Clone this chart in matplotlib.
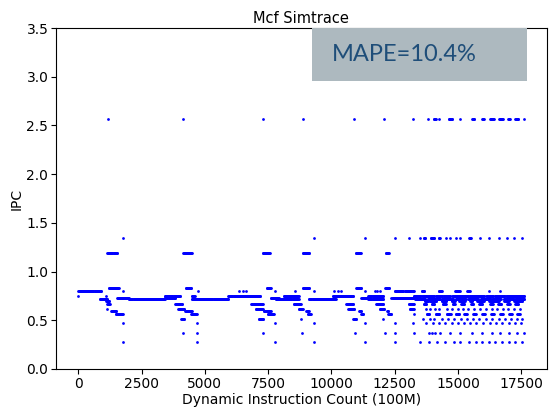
import numpy as np
import matplotlib
matplotlib.use("Agg")
import matplotlib.pyplot as plt
from matplotlib.patches import Rectangle

STEP = 20  # trace sample spacing, in units of 100M instructions

# Spans (start, end) of samples sitting at each IPC level; start == end is a single sample
ipc_028 = [(1760, 1760), (4680, 4680), (7770, 7770), (9320, 9320), (11340, 11340), (12500, 12500),
           (13485, 13485), (13843, 13843), (14162, 14162), (14480, 14480), (14838, 14838), (15076, 15076),
           (15434, 15434), (15713, 15713), (15952, 15952), (16230, 16230), (16469, 16469), (16747, 16747),
           (17025, 17025), (17264, 17264), (17543, 17543)]
ipc_037 = [(4140, 4140), (4700, 4700), (7290, 7290), (8830, 8830), (10910, 10910), (12100, 12100),
           (12500, 12500), (13247, 13247), (13843, 13843), (13963, 13963), (14082, 14082), (14281, 14281),
           (14679, 14679), (15076, 15076), (15554, 15554), (15952, 15952), (16350, 16350), (16668, 16668),
           (17025, 17025), (17344, 17344), (17623, 17623)]
ipc_047 = [(1760, 1760), (4680, 4680), (7770, 7770), (9320, 9320), (11340, 11340), (12500, 12500),
           (13230, 13230), (13724, 13724), (14003, 14003), (14241, 14241), (14480, 14480), (14758, 14758),
           (14997, 14997), (15236, 15236), (15474, 15474), (15713, 15713), (15992, 15992), (16270, 16270),
           (16509, 16509), (16747, 16747), (17026, 17026), (17264, 17264), (17503, 17503)]
ipc_051 = [(4060, 4180), (7130, 7320), (8790, 8790), (10860, 10980), (12040, 12040),
           (13605, 13605), (13883, 13883), (14042, 14042), (14361, 14361), (14599, 14599), (14838, 14838),
           (15116, 15116), (15355, 15355), (15594, 15594), (15832, 15832), (16111, 16111), (16350, 16350),
           (16628, 16628), (16867, 16867), (17105, 17105), (17344, 17344), (17543, 17543)]
ipc_056 = [(1480, 1760), (4460, 4680), (7480, 7720), (9070, 9190), (11180, 11260), (12250, 12370),
           (13250, 13250), (13764, 13883), (14122, 14281), (14559, 14719), (14917, 15037), (15236, 15355),
           (15594, 15713), (15952, 16071), (16310, 16429), (16668, 16787), (17026, 17145), (17344, 17463)]
ipc_060 = [(1300, 1500), (4220, 4480), (7320, 7600), (9000, 9110), (11100, 11180), (12200, 12250)]
ipc_061 = [(1140, 1140), (3940, 4180), (7000, 7280), (8700, 8860), (10660, 10900), (11900, 12090),
           (13090, 13250), (13724, 13724), (13883, 13883), (14082, 14082), (14241, 14241), (14559, 14559),
           (14758, 14758), (14997, 14997), (15196, 15196), (15395, 15395), (15634, 15634), (15872, 15872),
           (16111, 16111), (16350, 16350), (16548, 16548), (16787, 16787), (16986, 16986), (17225, 17225),
           (17463, 17463)]
ipc_067 = [(1140, 1240), (3820, 4100), (6840, 7280), (8510, 8790), (10580, 10860), (11770, 12050),
           (13050, 13250), (13645, 13764), (13963, 14082), (14400, 14520), (14798, 14878), (15116, 15236),
           (15514, 15594), (15832, 15952), (16270, 16389), (16588, 16708), (16946, 17065), (17264, 17384)]
ipc_070 = [(1100, 1230), (13684, 13843), (13883, 14162), (14361, 14559), (14758, 14878), (15037, 15276),
           (15474, 15554), (15753, 16031), (16230, 16628), (16827, 17026), (17225, 17543)]
ipc_072 = [(840, 1150), (2000, 3420), (4480, 5930), (7800, 8710), (9110, 10180), (11460, 12050),
           (13300, 13700), (13800, 14300), (14360, 14800), (14900, 15300), (15400, 15800), (15900, 16300),
           (16350, 16700), (16800, 17200), (17250, 17620)]
ipc_073 = [(1540, 2000), (3420, 3820), (7600, 7920), (11180, 11500), (12370, 13250)]
ipc_075 = [(0, 0), (1100, 1100), (3420, 4020), (4480, 4600), (5930, 7200), (8110, 8710), (10050, 10850),
           (11460, 12050), (13250, 13540), (13580, 14060), (14120, 14400), (14440, 14700), (14760, 15400),
           (15440, 16050), (16110, 16390), (16440, 16840), (16900, 17620)]
ipc_080 = [(0, 900), (1760, 1760), (4720, 4720), (6365, 6365), (6497, 6497), (6630, 6630), (7770, 7770),
           (8560, 8560), (9320, 9320), (10100, 10100), (10240, 10240), (10380, 10380), (11340, 11340),
           (11700, 11700), (11800, 11800), (11900, 11900), (12500, 12850), (12900, 13250), (13565, 13684),
           (14241, 14361), (14878, 15077), (15355, 15474), (16230, 16230), (16668, 16668)]
ipc_083 = [(1200, 1600), (4240, 4460), (7440, 7600), (8860, 9120), (10980, 11180), (12130, 12290)]
ipc_119 = [(1150, 1450), (1500, 1550), (4150, 4500), (7280, 7560), (8860, 9120), (10950, 11150),
           (12150, 12270)]
ipc_134 = [(1760, 1760), (9310, 9310), (11340, 11340), (12490, 12490), (13050, 13050), (13485, 13485),
           (13645, 13724), (13923, 14082), (14241, 14281), (14520, 14520), (14679, 14679), (14917, 14917),
           (15077, 15077), (15435, 15514), (15872, 15872), (16230, 16230), (16628, 16628), (16946, 16946),
           (17225, 17225), (17543, 17543)]
ipc_257 = [(1165, 1165), (4150, 4150), (7310, 7310), (8860, 8860), (10900, 10900), (12090, 12090),
           (13207, 13207), (13804, 13804), (14030, 14120), (14240, 14240), (14640, 14760), (15077, 15077),
           (15554, 15634), (15952, 16031), (16270, 16429), (16628, 16787), (16986, 17065), (17264, 17384),
           (17622, 17622)]

levels = {0.28: ipc_028, 0.37: ipc_037, 0.475: ipc_047, 0.51: ipc_051, 0.56: ipc_056,
          0.595: ipc_060, 0.615: ipc_061, 0.67: ipc_067, 0.70: ipc_070, 0.72: ipc_072,
          0.73: ipc_073, 0.75: ipc_075, 0.80: ipc_080, 0.835: ipc_083, 1.19: ipc_119,
          1.34: ipc_134, 2.57: ipc_257}

xs, ys = [], []
for ipc, spans in levels.items():
    for start, end in spans:
        pts = np.arange(start, end + 1, STEP)
        xs.extend(pts)
        ys.extend([ipc] * len(pts))

fig = plt.figure(figsize=(5.49, 4.07), dpi=100)
ax = fig.add_axes([0.102, 0.0934, 0.894, 0.8376])
ax.scatter(xs, ys, s=4, c="b", marker="o", linewidths=0)
ax.set_ylim(0, 3.5)
ax.tick_params(axis="x", pad=2.5)
ax.tick_params(axis="y", pad=2)
ax.set_title("Mcf Simtrace", fontsize=10.5, pad=4)
ax.set_xlabel("Dynamic Instruction Count (100M)", labelpad=1)
ax.set_ylabel("IPC", labelpad=2)

# MAPE callout in the upper right corner
ax.add_patch(Rectangle((0.521, 0.845), 0.438, 0.155, transform=ax.transAxes,
                       facecolor="#adb9bf", edgecolor="none", zorder=3))
ax.text(0.562, 0.922, "MAPE=10.4%", transform=ax.transAxes, va="center", ha="left",
        fontsize=17, color="#1f4e79", family="Lato", zorder=4)

fig.savefig("out.png", dpi=100)
